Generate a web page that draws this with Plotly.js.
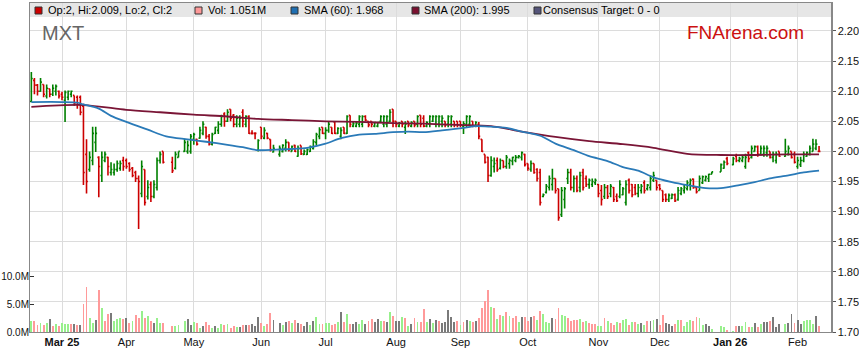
<!DOCTYPE html>
<html>
<head>
<meta charset="utf-8">
<script src="https://cdn.plot.ly/plotly-3.0.1.min.js"></script>
<style>html,body{margin:0;padding:0;background:#fff;}#chart{width:859px;height:363px;}</style>
</head>
<body>
<div id="chart"></div>
<script>
// ---- Data ----
const dates = [
'2025-02-17','2025-02-18','2025-02-19','2025-02-20','2025-02-21',
'2025-02-24','2025-02-25','2025-02-26','2025-02-27','2025-02-28',
'2025-03-03','2025-03-04','2025-03-05','2025-03-06','2025-03-07',
'2025-03-10','2025-03-11','2025-03-12','2025-03-13','2025-03-14',
'2025-03-17','2025-03-18','2025-03-19','2025-03-20','2025-03-21',
'2025-03-24','2025-03-25','2025-03-26','2025-03-27','2025-03-28',
'2025-03-31','2025-04-01','2025-04-02','2025-04-03','2025-04-04',
'2025-04-07','2025-04-08','2025-04-09','2025-04-10','2025-04-11',
'2025-04-14','2025-04-15','2025-04-16','2025-04-17',
'2025-04-22','2025-04-23','2025-04-24',
'2025-04-28','2025-04-29','2025-04-30','2025-05-01','2025-05-02',
'2025-05-05','2025-05-06','2025-05-07','2025-05-08','2025-05-09',
'2025-05-12','2025-05-13','2025-05-14','2025-05-15','2025-05-16',
'2025-05-19','2025-05-20','2025-05-21','2025-05-22','2025-05-23',
'2025-05-26','2025-05-27','2025-05-28','2025-05-29','2025-05-30',
'2025-06-02','2025-06-03','2025-06-04','2025-06-05','2025-06-06',
'2025-06-10','2025-06-11','2025-06-12','2025-06-13',
'2025-06-16','2025-06-17','2025-06-18','2025-06-19','2025-06-20',
'2025-06-23','2025-06-24','2025-06-25','2025-06-26','2025-06-27',
'2025-06-30','2025-07-01','2025-07-02','2025-07-03','2025-07-04',
'2025-07-07','2025-07-08','2025-07-09','2025-07-10','2025-07-11',
'2025-07-14','2025-07-15','2025-07-16','2025-07-17','2025-07-18',
'2025-07-21','2025-07-22','2025-07-23','2025-07-24','2025-07-25',
'2025-07-28','2025-07-29','2025-07-30','2025-07-31','2025-08-01',
'2025-08-04','2025-08-05','2025-08-06','2025-08-07','2025-08-08',
'2025-08-11','2025-08-12','2025-08-13','2025-08-14','2025-08-15',
'2025-08-18','2025-08-19','2025-08-20','2025-08-21','2025-08-22',
'2025-08-25','2025-08-26','2025-08-27','2025-08-28','2025-08-29',
'2025-09-01','2025-09-02','2025-09-03','2025-09-04','2025-09-05',
'2025-09-08','2025-09-09','2025-09-10','2025-09-11','2025-09-12',
'2025-09-15','2025-09-16','2025-09-17','2025-09-18','2025-09-19',
'2025-09-22','2025-09-23','2025-09-24','2025-09-25','2025-09-26',
'2025-09-29','2025-09-30','2025-10-01','2025-10-02','2025-10-03',
'2025-10-06','2025-10-07','2025-10-08','2025-10-09','2025-10-10',
'2025-10-13','2025-10-14','2025-10-15','2025-10-16','2025-10-17',
'2025-10-20','2025-10-21','2025-10-22','2025-10-23','2025-10-24',
'2025-10-27','2025-10-28','2025-10-29','2025-10-30','2025-10-31',
'2025-11-03','2025-11-04','2025-11-05','2025-11-06','2025-11-07',
'2025-11-10','2025-11-11','2025-11-12','2025-11-13','2025-11-14',
'2025-11-17','2025-11-18','2025-11-19','2025-11-20','2025-11-21',
'2025-11-24','2025-11-25','2025-11-26','2025-11-27','2025-11-28',
'2025-12-01','2025-12-02','2025-12-03','2025-12-04','2025-12-05',
'2025-12-08','2025-12-09','2025-12-10','2025-12-11','2025-12-12',
'2025-12-15','2025-12-16','2025-12-17','2025-12-18','2025-12-19',
'2025-12-22','2025-12-23','2025-12-24',
'2025-12-29','2025-12-30','2025-12-31','2026-01-02',
'2026-01-05','2026-01-06','2026-01-07','2026-01-08','2026-01-09',
'2026-01-12','2026-01-13','2026-01-14','2026-01-15','2026-01-16',
'2026-01-19','2026-01-20','2026-01-21','2026-01-22','2026-01-23',
'2026-01-27','2026-01-28','2026-01-29','2026-01-30',
'2026-02-02','2026-02-03','2026-02-04','2026-02-05','2026-02-06',
'2026-02-09','2026-02-10','2026-02-11'
];
const open = [
2.083,2.118,2.110,2.100,2.111, 2.092,2.104,2.095,2.100,2.100,
2.095,2.085,2.090,2.095,2.093, 2.090,2.090,2.075,1.995,1.970,
1.985,2.015,1.990,1.960,1.985, 1.990,1.965,1.965,1.970,1.972,
1.985,1.985,1.980,1.972,1.965, 1.955,1.930,1.970,1.925,1.945,
1.925,1.940,1.985,2.000, 1.982,1.972,1.990,
2.000,2.000,2.000,2.020,2.020, 2.022,2.030,2.040,2.025,2.012,
2.030,2.035,2.045,2.062,2.050, 2.070,2.060,2.045,2.045,2.065,
2.045,2.058,2.030,2.030,2.002, 2.040,2.022,2.030,2.020,1.999,
1.995,2.000,2.005,2.015, 2.000,2.010,1.992,2.010,1.995,
1.995,2.000,2.005,2.015,2.025, 2.040,2.030,2.035,2.040,2.049,
2.030,2.025,2.040,2.030,2.060, 2.042,2.042,2.045,2.045,2.058,
2.050,2.050,2.042,2.042,2.050, 2.045,2.045,2.050,2.070,2.050,
2.042,2.050,2.040,2.050,2.042, 2.050,2.045,2.060,2.055,2.042,
2.045,2.050,2.045,2.045,2.050, 2.050,2.045,2.045,2.050,2.050,
2.050,2.042,2.045,2.045,2.050, 2.042,2.045,2.020,1.995,1.990,
1.960,1.975,1.985,1.972,1.985, 1.975,1.980,1.984,1.985,1.990,
1.990,1.995,1.980,1.970,1.980, 1.970,1.965,1.925,1.932,1.940,
1.945,1.955,1.938,1.895,1.920, 1.955,1.965,1.940,1.955,1.940,
1.965,1.955,1.945,1.945,1.948, 1.945,1.935,1.925,1.940,1.930,
1.940,1.925,1.925,1.928,1.915, 1.952,1.945,1.940,1.930,1.935,
1.948,1.938,1.940,1.952,1.952, 1.944,1.935,1.928,1.920,1.922,
1.928,1.920,1.930,1.935,1.938, 1.945,1.954,1.940,1.935,1.948,
1.952,1.955,1.962, 1.966,1.972,1.988,1.978,
1.992,1.985,1.985,1.975,1.998, 1.990,2.000,2.008,1.995,1.995,
1.998,2.000,1.990,1.985,2.000, 1.992,1.995,2.000,1.995,
1.975,1.978,1.985,1.992,1.995, 2.000,2.005,2.000
];
const high = [
2.132,2.122,2.112,2.122,2.111, 2.111,2.104,2.111,2.111,2.101,
2.099,2.101,2.101,2.101,2.093, 2.093,2.093,2.079,2.020,2.000,
2.041,2.041,1.992,2.000,2.000, 1.991,1.982,1.980,1.985,1.985,
1.991,1.988,1.982,1.974,1.968, 1.960,1.985,1.970,1.952,1.950,
1.952,1.990,2.000,2.000, 1.991,2.000,2.000,
2.021,2.018,2.029,2.031,2.021, 2.041,2.050,2.041,2.029,2.031,
2.041,2.050,2.061,2.065,2.070, 2.070,2.062,2.060,2.060,2.070,
2.060,2.060,2.035,2.032,2.020, 2.040,2.040,2.031,2.020,2.011,
2.010,2.012,2.020,2.015, 2.010,2.011,2.010,2.010,2.003,
2.005,2.010,2.020,2.031,2.040, 2.040,2.040,2.049,2.040,2.049,
2.040,2.040,2.040,2.060,2.060, 2.049,2.049,2.060,2.060,2.060,
2.050,2.050,2.049,2.049,2.060, 2.060,2.060,2.070,2.070,2.050,
2.049,2.050,2.050,2.050,2.050, 2.050,2.060,2.060,2.060,2.050,
2.060,2.060,2.060,2.060,2.060, 2.050,2.060,2.060,2.050,2.050,
2.050,2.050,2.060,2.060,2.050, 2.050,2.049,2.020,1.995,1.991,
1.992,1.990,1.990,1.988,1.985, 1.994,1.988,1.991,1.994,1.994,
2.000,1.996,1.980,1.985,1.980, 1.972,1.971,1.930,1.946,1.960,
1.971,1.955,1.938,1.941,1.941, 1.971,1.971,1.960,1.960,1.966,
1.971,1.960,1.955,1.955,1.955, 1.946,1.944,1.946,1.944,1.946,
1.941,1.930,1.952,1.941,1.952, 1.955,1.946,1.946,1.946,1.946,
1.952,1.946,1.960,1.966,1.952, 1.946,1.935,1.930,1.930,1.930,
1.930,1.941,1.941,1.944,1.952, 1.955,1.955,1.941,1.960,1.960,
1.960,1.963,1.966, 1.980,1.985,1.991,1.991,
1.996,1.991,1.993,1.996,2.000, 2.010,2.010,2.010,2.010,2.010,
2.010,2.000,2.000,2.000,2.000, 2.021,2.010,2.000,2.000,
1.991,1.991,2.000,2.000,2.010, 2.021,2.020,2.009
];
const low = [
2.082,2.095,2.093,2.099,2.090, 2.088,2.090,2.092,2.093,2.088,
2.085,2.049,2.085,2.090,2.076, 2.071,2.060,1.944,1.930,1.966,
1.977,1.999,1.924,1.949,1.982, 1.960,1.960,1.960,1.966,1.968,
1.968,1.971,1.966,1.957,1.949, 1.871,1.924,1.910,1.920,1.916,
1.922,1.935,1.980,1.980, 1.964,1.970,1.990,
1.999,1.996,1.996,2.011,2.010, 2.021,2.027,2.021,2.010,2.010,
2.029,2.029,2.041,2.041,2.049, 2.050,2.040,2.040,2.040,2.040,
2.040,2.029,2.028,2.020,2.000, 2.020,2.020,2.020,2.000,1.998,
1.991,1.998,2.000,2.000, 2.000,1.999,1.991,1.994,1.994,
1.994,1.999,2.003,2.010,2.020, 2.029,2.020,2.031,2.029,2.029,
2.029,2.020,2.029,2.029,2.040, 2.040,2.040,2.040,2.040,2.050,
2.040,2.040,2.040,2.040,2.049, 2.040,2.040,2.049,2.040,2.040,
2.040,2.040,2.029,2.040,2.040, 2.040,2.040,2.040,2.040,2.040,
2.040,2.049,2.040,2.040,2.040, 2.040,2.040,2.040,2.040,2.040,
2.040,2.029,2.040,2.040,2.040, 2.040,2.020,1.999,1.980,1.949,
1.958,1.965,1.966,1.970,1.972, 1.971,1.971,1.977,1.982,1.988,
1.985,1.975,1.968,1.966,1.963, 1.950,1.910,1.924,1.930,1.935,
1.935,1.930,1.885,1.891,1.905, 1.946,1.935,1.932,1.932,1.932,
1.935,1.941,1.938,1.941,1.944, 1.924,1.910,1.921,1.921,1.924,
1.916,1.916,1.922,1.927,1.910, 1.930,1.924,1.927,1.924,1.930,
1.930,1.935,1.935,1.949,1.935, 1.935,1.916,1.916,1.916,1.921,
1.916,1.918,1.927,1.930,1.935, 1.935,1.938,1.930,1.935,1.946,
1.950,1.949,1.962, 1.966,1.971,1.977,1.977,
1.982,1.982,1.982,1.971,1.982, 1.988,2.000,1.991,1.993,1.991,
1.991,1.988,1.982,1.980,1.991, 1.991,1.993,1.988,1.980,
1.971,1.974,1.982,1.991,1.993, 2.000,2.002,2.000
];
const close = [
2.121,2.110,2.100,2.115,2.095, 2.105,2.095,2.105,2.108,2.092,
2.090,2.098,2.100,2.100,2.080, 2.078,2.065,1.965,1.950,1.990,
2.030,2.030,1.975,1.990,1.995, 1.975,1.970,1.970,1.980,1.980,
1.975,1.975,1.970,1.960,1.955, 1.950,1.975,1.915,1.940,1.925,
1.945,1.985,1.995,1.982, 1.968,1.995,2.000,
2.015,2.010,2.025,2.028,2.012, 2.035,2.045,2.025,2.012,2.028,
2.040,2.045,2.058,2.050,2.065, 2.055,2.045,2.055,2.055,2.050,
2.058,2.030,2.030,2.030,2.018, 2.025,2.035,2.022,2.003,2.005,
2.005,2.010,2.015,2.003, 2.008,2.000,2.005,1.996,2.000,
2.003,2.008,2.016,2.028,2.036, 2.030,2.035,2.045,2.030,2.030,
2.038,2.035,2.030,2.058,2.045, 2.046,2.047,2.058,2.058,2.052,
2.044,2.045,2.048,2.048,2.058, 2.058,2.058,2.065,2.050,2.045,
2.047,2.045,2.045,2.044,2.048, 2.044,2.058,2.045,2.042,2.048,
2.058,2.058,2.058,2.058,2.055, 2.044,2.058,2.058,2.044,2.044,
2.044,2.046,2.058,2.058,2.042, 2.048,2.025,2.000,1.982,1.960,
1.985,1.980,1.970,1.985,1.975, 1.990,1.985,1.990,1.990,1.992,
1.998,1.978,1.972,1.980,1.965, 1.955,1.915,1.928,1.942,1.955,
1.955,1.935,1.890,1.935,1.938, 1.965,1.940,1.955,1.935,1.960,
1.940,1.945,1.952,1.950,1.952, 1.930,1.920,1.940,1.925,1.942,
1.920,1.918,1.945,1.938,1.945, 1.935,1.928,1.930,1.940,1.942,
1.935,1.944,1.955,1.960,1.940, 1.938,1.920,1.920,1.927,1.928,
1.918,1.935,1.938,1.940,1.948, 1.952,1.940,1.933,1.955,1.958,
1.958,1.962,1.966, 1.978,1.982,1.980,1.988,
1.985,1.988,1.990,1.990,1.988, 2.005,2.008,1.995,2.005,2.005,
2.005,1.990,1.995,1.995,1.992, 2.000,2.005,1.990,1.982,
1.985,1.985,1.995,1.998,2.005, 2.012,2.012,2.000
];
// volume in millions of shares
const volume = [
1.95,1.95,1.2,1.65,1.2, 1.65,2.3,1.05,1.4,1.05,
1.65,1.4,1.4,1.4,1.4, 1.2,1.2,5.0,8.0,2.5,
1.65,2.1,7.6,4.4,1.95, 3.2,3.5,1.95,2.3,2.5,
2.3,2.5,1.65,1.95,3.05, 2.5,3.8,2.5,2.9,1.95,
1.65,2.5,1.65,1.65, 1.05,1.05,1.2,
1.95,2.3,1.2,1.75,1.65, 0.7,1.05,1.75,1.2,0.7,
1.05,0.8,1.4,1.2,1.4, 0.8,1.05,0.85,0.85,1.2,
1.2,1.2,1.4,1.1,2.7, 1.65,1.05,1.4,3.4,2.1,
1.65,1.2,1.75,1.95, 1.65,2.1,1.65,1.4,1.05,
1.75,1.2,1.95,2.7,1.4, 1.4,1.65,1.65,1.2,1.4,
1.75,3.6,1.75,3.2,1.4, 1.4,1.75,1.4,2.1,1.4,
1.95,2.3,1.75,2.3,1.95, 1.95,1.75,3.6,2.9,1.95,
1.95,2.7,2.5,1.05,1.4, 2.5,1.75,1.75,4.15,1.75,
2.3,1.65,2.1,1.95,1.65, 1.75,4.0,2.7,1.75,1.95,
1.2,1.75,2.1,1.95,1.75, 1.95,2.5,4.3,5.6,7.6,
4.5,4.3,2.3,3.05,2.9, 3.6,2.9,2.5,2.9,1.75,
2.7,2.7,1.95,2.7,2.9, 2.1,3.8,3.2,1.75,1.6,
2.5,2.3,4.3,3.05,2.9, 2.5,1.95,2.1,2.1,2.3,
1.75,1.95,1.6,1.4,1.4, 1.05,1.05,2.5,1.95,1.6,
1.2,1.75,1.6,2.1,2.3, 1.2,1.75,1.75,1.4,1.6,
1.2,1.95,1.95,2.1,2.3, 1.2,3.05,1.6,1.4,1.05,
1.4,2.1,2.1,1.05,1.75, 2.1,1.95,2.7,2.5,1.2,
1.4,1.05,0.5, 1.05,0.85,0.3,0.1,
1.05,1.05,1.05,1.75,0.85, 0.85,1.6,0.85,1.4,1.75,
1.75,1.95,2.7,0.85,1.4, 1.4,1.6,3.2,1.6,
2.1,1.4,1.95,2.1,2.1, 1.4,2.9,1.051
];
// volume bar shade: u = up (green), d = down (red), n = unchanged (grey)
const volDir = [
'u','d','d','u','d', 'u','n','d','u','d',
'u','u','u','d','n', 'd','n','d','d','u',
'u','n','d','u','d', 'd','n','u','u','u',
'd','n','d','u','d', 'd','u','d','u','d',
'n','u','u','d', 'd','u','u',
'u','n','n','u','d', 'u','n','d','d','u',
'n','u','u','d','u', 'd','d','u','n','d',
'n','d','n','n','n', 'd','u','d','d','n',
'n','u','n','d', 'u','d','n','d','n',
'n','u','n','u','u', 'd','u','u','d','d',
'u','n','d','u','d', 'n','n','u','u','n',
'd','d','n','n','u', 'd','n','u','d','n',
'n','u','d','u','n', 'd','u','d','d','u',
'n','u','n','d','n', 'n','n','n','n','d',
'u','d','n','u','d', 'n','d','d','d','d',
'u','d','u','d','u', 'd','u','d','d','u',
'n','d','d','n','d', 'u','d','u','u','u',
'n','d','d','u','u', 'd','d','d','d','u',
'd','u','d','d','d', 'u','u','d','u','d',
'd','u','d','u','u', 'd','u','d','u','n',
'u','d','n','u','n', 'd','d','n','n','n',
'd','u','d','u','u', 'u','d','d','u','u',
'n','n','u', 'u','u','d','u',
'd','n','u','u','d', 'u','n','d','u','n',
'n','d','n','n','n', 'u','n','n','d',
'n','n','u','u','u', 'u','n','d'
];
// moving averages sampled along the drawn lines
const sma60Dates = ['2025-02-17','2025-03-03','2025-03-10','2025-03-12','2025-03-19','2025-03-25','2025-04-01','2025-04-10','2025-04-18','2025-04-29','2025-05-07','2025-05-16','2025-05-23','2025-05-30','2025-06-09','2025-06-16','2025-06-23','2025-07-01','2025-07-08','2025-07-16','2025-07-23','2025-07-31','2025-08-07','2025-08-14','2025-08-22','2025-09-02','2025-09-08','2025-09-15','2025-09-22','2025-09-29','2025-10-07','2025-10-14','2025-10-22','2025-10-29','2025-11-06','2025-11-13','2025-11-20','2025-11-27','2025-12-05','2025-12-12','2025-12-22','2025-12-29','2026-01-06','2026-01-13','2026-01-20','2026-01-28','2026-02-04','2026-02-11'];
const sma60 = [2.082,2.082,2.081,2.078,2.071,2.059,2.049,2.036,2.025,2.020,2.016,2.011,2.007,2.002,2.003,2.004,2.006,2.013,2.022,2.028,2.029,2.032,2.033,2.032,2.035,2.039,2.042,2.041,2.039,2.033,2.026,2.013,2.002,1.992,1.984,1.974,1.968,1.957,1.949,1.944,1.939,1.939,1.944,1.949,1.955,1.960,1.965,1.968];
const sma200Dates = ['2025-02-17','2025-03-12','2025-04-01','2025-04-16','2025-05-01','2025-05-16','2025-05-30','2025-06-16','2025-07-01','2025-07-16','2025-07-31','2025-08-14','2025-08-29','2025-09-15','2025-09-29','2025-10-14','2025-10-29','2025-11-13','2025-11-27','2025-12-12','2025-12-29','2026-01-13','2026-01-28','2026-02-11'];
const sma200 = [2.074,2.077,2.069,2.065,2.061,2.058,2.054,2.052,2.050,2.049,2.047,2.046,2.044,2.042,2.033,2.024,2.017,2.012,2.006,1.996,1.994,1.994,1.995,1.995];

const tickDates = ['2025-03-03','2025-04-01','2025-05-01','2025-06-02','2025-07-01','2025-08-01','2025-09-01','2025-10-01','2025-11-03','2025-12-01','2026-01-01','2026-02-02'];
const tickLabels = ['<b>Mar 25</b>','Apr','May','Jun','Jul','Aug','Sep','Oct','Nov','Dec','<b>Jan 26</b>','Feb'];
const volTicks = [0, 5, 10];
const volTickLabels = ['0.0M','5.0M','10.0M'];

const legendItems = [
  {text:'Op:2, Hi:2.009, Lo:2, Cl:2', color:'#cc0000', sq:35, tx:46},
  {text:'Vol: 1.051M', color:'#ff9999', sq:195, tx:206},
  {text:'SMA (60): 1.968', color:'#1f6fb2', sq:291, tx:302},
  {text:'SMA (200): 1.995', color:'#7a1030', sq:412, tx:422},
  {text:'Consensus Target: 0 - 0', color:'#55557a', sq:534, tx:541}
];

// ---- Drawing ----
const FONT = 'Arial, "Liberation Sans", sans-serif';
const W = 859, H = 363, ML = 30, MR = 28, MT = 3, MB = 31;
const PW = W - ML - MR, PH = H - MT - MB;
const px = v => (v - ML) / PW;
const py = v => (H - MB - v) / PH;

const dirColor = {u:'#98f08c', d:'#ff9a9a', n:'#7a7a7a'};
const DAY = 86400000;

const traces = [
  {
    type:'bar', x:dates, y:volume.map(v => v * 1e6), yaxis:'y2',
    marker:{color:volDir.map(d => dirColor[d]), line:{width:0}},
    width: dates.map(() => 0.62 * DAY), hoverinfo:'skip', showlegend:false
  },
  {
    type:'scatter', mode:'lines', x:sma200Dates, y:sma200,
    line:{color:'#7a1536', width:1.8, shape:'spline', smoothing:0.8}, hoverinfo:'skip', showlegend:false
  },
  {
    type:'scatter', mode:'lines', x:sma60Dates, y:sma60,
    line:{color:'#2a7ab8', width:1.8, shape:'spline', smoothing:0.8}, hoverinfo:'skip', showlegend:false
  },
  {
    type:'ohlc', x:dates, open:open, high:high, low:low, close:close,
    increasing:{line:{color:'#008000', width:1.6}},
    decreasing:{line:{color:'#cc0000', width:1.6}},
    tickwidth:0.45, hoverinfo:'skip', showlegend:false
  }
];

const shapes = [
  {type:'rect', xref:'paper', yref:'paper', x0:0, x1:1, y0:py(17), y1:1,
   fillcolor:'#e6e6e6', line:{width:0}, layer:'below'}
];
const annotations = [];
legendItems.forEach(it => {
  shapes.push({type:'rect', xref:'paper', yref:'paper', x0:px(it.sq), x1:px(it.sq + 7),
    y0:py(14), y1:py(7), fillcolor:it.color, line:{color:'#333', width:1}, layer:'above'});
  annotations.push({xref:'paper', yref:'paper', x:px(it.tx), y:py(10.5), xanchor:'left', yanchor:'middle',
    text:it.text, showarrow:false, font:{family:FONT, size:11, color:'#000'}});
});
annotations.push({xref:'paper', yref:'paper', x:px(40), y:py(33), xanchor:'left', yanchor:'middle',
  text:'MXT', showarrow:false, font:{family:FONT, size:20, color:'#666'}});
annotations.push({xref:'paper', yref:'paper', x:px(685), y:py(33), xanchor:'left', yanchor:'middle',
  text:'FNArena.com', showarrow:false, font:{family:FONT, size:19, color:'#cc1111'}});

const layout = {
  width:W, height:H,
  margin:{l:ML, r:MR, t:MT, b:MB, pad:0},
  paper_bgcolor:'#ffffff', plot_bgcolor:'#ffffff',
  showlegend:false, bargap:0,
  font:{family:FONT, size:11, color:'#111'},
  xaxis:{
    type:'date',
    range:['2025-02-14 13:26', '2026-02-16 21:36'],
    rangebreaks:[{bounds:['sat','mon']}],
    rangeslider:{visible:false},
    tickmode:'array', tickvals:tickDates, ticktext:tickLabels,
    ticks:'', showgrid:true, gridcolor:'#dcdcdc', gridwidth:1,
    showline:true, linecolor:'#888', linewidth:1, mirror:true,
    tickfont:{family:FONT, size:11, color:'#111'}, fixedrange:true
  },
  yaxis:{
    side:'right', range:[1.70, 2.2465], tickmode:'linear', tick0:1.70, dtick:0.05,
    tickformat:'.2f', ticks:'outside', ticklen:3, tickcolor:'#555',
    showgrid:true, gridcolor:'#dcdcdc', gridwidth:1, zeroline:false,
    showline:true, linecolor:'#888', linewidth:1.5, mirror:true,
    tickfont:{family:FONT, size:11, color:'#111'}, fixedrange:true
  },
  yaxis2:{
    overlaying:'y', side:'left', range:[0, 59.1e6],
    tickmode:'array', tickvals:volTicks.map(v => v * 1e6), ticktext:volTickLabels,
    ticks:'inside', ticklen:4, tickcolor:'#333',
    showgrid:false, zeroline:false, showline:false,
    tickfont:{family:FONT, size:10, color:'#111'}, fixedrange:true
  },
  shapes:shapes,
  annotations:annotations
};

Plotly.newPlot('chart', traces, layout, {staticPlot:true, displayModeBar:false});
</script>
</body>
</html>
